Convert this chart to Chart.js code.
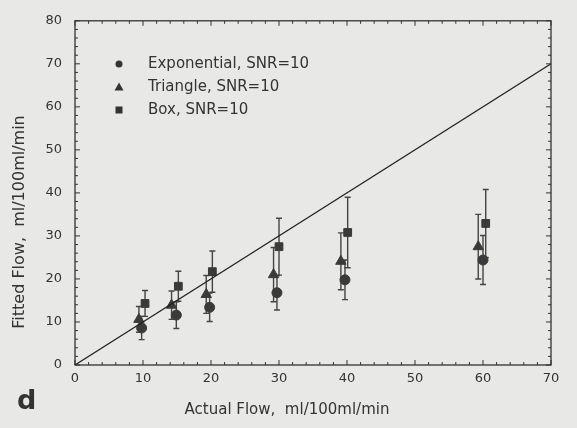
<!DOCTYPE html>
<html>
<head>
<meta charset="utf-8">
<script src="https://cdn.jsdelivr.net/npm/chart.js@4"></script>
<style>
  html, body { margin: 0; padding: 0; background: #e8e8e6; }
  #wrap { width: 577px; height: 428px; }
</style>
</head>
<body>
<div id="wrap"><canvas id="flowChart" width="577" height="428"></canvas></div>
<script>
// series names
const seriesNames = ['Exponential, SNR=10', 'Triangle, SNR=10', 'Box, SNR=10'];

// actual flow (x) per series, slightly staggered as in the figure
const expX = [9.8, 14.9, 19.8, 29.7, 39.7, 60.0];
const triX = [9.4, 14.2, 19.3, 29.2, 39.1, 59.3];
const boxX = [10.3, 15.2, 20.2, 30.0, 40.1, 60.4];

// fitted flow (y)
const expY = [8.6, 11.6, 13.4, 16.8, 19.8, 24.4];
const triY = [10.6, 13.9, 16.4, 21.0, 24.1, 27.5];
const boxY = [14.3, 18.3, 21.7, 27.5, 30.8, 32.9];

// error bar half-widths
const expErr = [2.7, 3.1, 3.3, 4.0, 4.6, 5.7];
const triErr = [3.0, 3.3, 4.4, 6.3, 6.6, 7.5];
const boxErr = [3.0, 3.5, 4.8, 6.6, 8.2, 7.9];

// identity line
const lineX = [0, 70];
const lineY = [0, 70];

const xTitle = 'Actual Flow,  ml/100ml/min';
const yTitle = 'Fitted Flow,  ml/100ml/min';

const pts = (xs, ys) => xs.map((x, i) => ({ x: x, y: ys[i] }));
const series = [
  { x: expX, y: expY, err: expErr, style: 'circle', r: 5 },
  { x: triX, y: triY, err: triErr, style: 'triangle', r: 6 },
  { x: boxX, y: boxY, err: boxErr, style: 'rect', r: 5.5 }
];
const ink = '#333333';

// error bars, frame, inward ticks, legend, titles, panel letter
const extras = {
  id: 'extras',
  beforeDatasetsDraw(chart) {
    const ctx = chart.ctx, xs = chart.scales.x, ys = chart.scales.y;
    ctx.save();
    ctx.strokeStyle = '#444';
    ctx.lineWidth = 1.4;
    series.forEach(s => {
      s.x.forEach((xv, i) => {
        const px = xs.getPixelForValue(xv);
        const top = ys.getPixelForValue(s.y[i] + s.err[i]);
        const bot = ys.getPixelForValue(s.y[i] - s.err[i]);
        ctx.beginPath();
        ctx.moveTo(px, top); ctx.lineTo(px, bot);
        ctx.moveTo(px - 3, top); ctx.lineTo(px + 3, top);
        ctx.moveTo(px - 3, bot); ctx.lineTo(px + 3, bot);
        ctx.stroke();
      });
    });
    ctx.restore();
  },
  afterDraw(chart) {
    const ctx = chart.ctx, a = chart.chartArea, xs = chart.scales.x, ys = chart.scales.y;
    ctx.save();
    ctx.strokeStyle = ink;
    ctx.lineWidth = 1.3;
    ctx.strokeRect(a.left, a.top, a.right - a.left, a.bottom - a.top);
    ctx.lineWidth = 1;
    ctx.beginPath();
    for (let v = 0; v <= 70; v += 2) {
      const p = xs.getPixelForValue(v), len = v % 10 === 0 ? 5 : 3;
      ctx.moveTo(p, a.bottom); ctx.lineTo(p, a.bottom - len);
      ctx.moveTo(p, a.top); ctx.lineTo(p, a.top + len);
    }
    for (let v = 0; v <= 80; v += 2) {
      const p = ys.getPixelForValue(v), len = v % 10 === 0 ? 5 : 3;
      ctx.moveTo(a.left, p); ctx.lineTo(a.left + len, p);
      ctx.moveTo(a.right, p); ctx.lineTo(a.right - len, p);
    }
    ctx.stroke();

    // legend
    ctx.fillStyle = ink;
    ctx.font = '15px "DejaVu Sans"';
    ctx.textBaseline = 'middle';
    const rows = [64, 87, 110];
    series.forEach((s, i) => {
      const cx = 119, cy = rows[i];
      ctx.beginPath();
      if (s.style === 'circle') ctx.arc(cx, cy, 3.5, 0, Math.PI * 2);
      else if (s.style === 'triangle') { ctx.moveTo(cx, cy - 4.5); ctx.lineTo(cx + 4.5, cy + 3.5); ctx.lineTo(cx - 4.5, cy + 3.5); ctx.closePath(); }
      else ctx.rect(cx - 3.5, cy - 3.5, 7, 7);
      ctx.fill();
      ctx.fillText(seriesNames[i], 148, cy);
    });

    // axis titles
    ctx.textAlign = 'center';
    ctx.font = '15px "DejaVu Sans"';
    ctx.fillText(xTitle, 287, 410);
    ctx.save();
    ctx.translate(20, 222);
    ctx.rotate(-Math.PI / 2);
    ctx.font = '16px "DejaVu Sans"';
    ctx.fillText(yTitle, 0, 0);
    ctx.restore();

    // panel letter
    ctx.textAlign = 'left';
    ctx.font = 'bold 27px "DejaVu Sans"';
    ctx.textBaseline = 'alphabetic';
    ctx.fillText('d', 17, 409);
    ctx.restore();
  }
};

new Chart(document.getElementById('flowChart').getContext('2d'), {
  type: 'scatter',
  data: {
    datasets: [
      { data: pts(lineX, lineY), showLine: true, borderColor: '#222', borderWidth: 1.2, pointRadius: 0 },
      ...series.map((s, i) => ({
        label: seriesNames[i], data: pts(s.x, s.y), pointStyle: s.style, pointRadius: s.r,
        backgroundColor: '#3a3a3a', borderColor: '#3a3a3a', borderWidth: 1
      }))
    ]
  },
  options: {
    responsive: false, animation: false, devicePixelRatio: 1,
    layout: { padding: { top: 19, right: 26, left: 0, bottom: 0 } },
    plugins: { legend: { display: false }, tooltip: { enabled: false } },
    scales: {
      x: {
        type: 'linear', min: 0, max: 70,
        afterFit: s => { s.height = 63; },
        ticks: { stepSize: 10, color: ink, font: { family: 'DejaVu Sans', size: 13 }, padding: 6, maxRotation: 0 },
        grid: { drawOnChartArea: false, drawTicks: false },
        border: { display: false }
      },
      y: {
        type: 'linear', min: 0, max: 80,
        afterFit: s => { s.width = 75; },
        ticks: { stepSize: 10, color: ink, font: { family: 'DejaVu Sans', size: 13 }, padding: 13 },
        grid: { drawOnChartArea: false, drawTicks: false },
        border: { display: false }
      }
    }
  },
  plugins: [extras]
});
</script>
</body>
</html>
